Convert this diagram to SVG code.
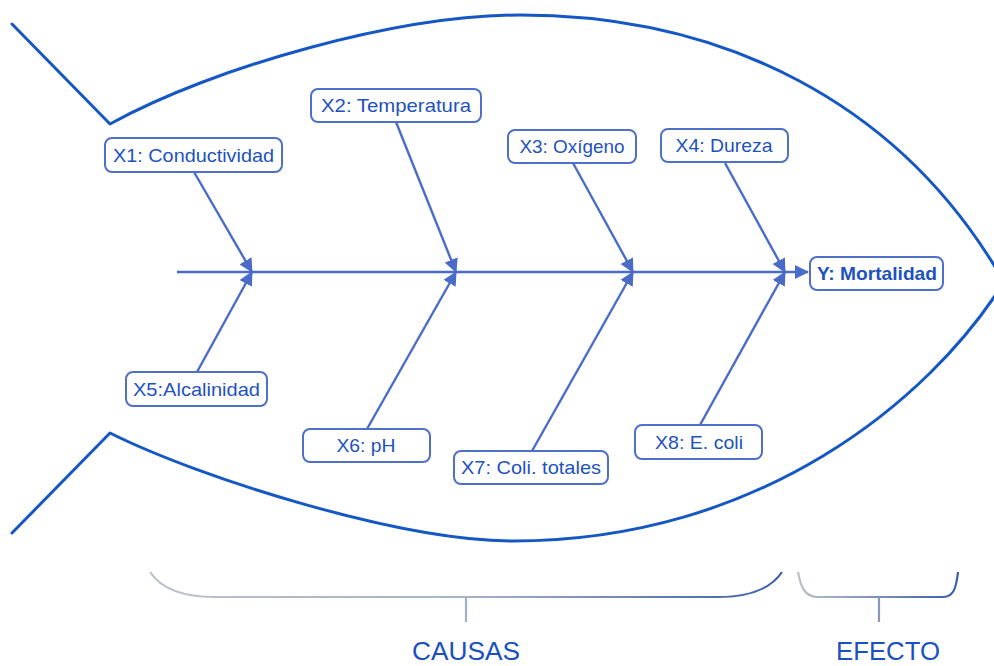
<svg xmlns="http://www.w3.org/2000/svg" width="994" height="666" viewBox="0 0 994 666">
<style>
.fish{fill:none;stroke:#1557c4;stroke-width:3;stroke-linejoin:round;stroke-linecap:round}
.bone{fill:none;stroke:#4a6cc8;stroke-width:2.4}
.box{fill:#ffffff;stroke:#4f70c8;stroke-width:2}
.lbl{font-family:"Liberation Sans",Arial,sans-serif;font-size:19px;fill:#1e52bf;text-anchor:middle}
.eff{font-weight:bold}
.cap{font-family:"Liberation Sans",Arial,sans-serif;font-size:25px;fill:#1a50c0;text-anchor:middle}
.brace{fill:none;stroke-width:2.2}
</style>
<defs>
<marker id="ah" viewBox="0 0 14 14" refX="13" refY="7" markerWidth="14" markerHeight="14" markerUnits="userSpaceOnUse" orient="auto">
<path d="M0,0 L14,7 L0,14 z" fill="#4a6cc8"/>
</marker>
<linearGradient id="g1" x1="150" y1="0" x2="782" y2="0" gradientUnits="userSpaceOnUse">
<stop offset="0" stop-color="#bcc0cb"/>
<stop offset="0.5" stop-color="#a9b2c9"/>
<stop offset="1" stop-color="#3a5cae"/>
</linearGradient>
<linearGradient id="g2" x1="798" y1="0" x2="958" y2="0" gradientUnits="userSpaceOnUse">
<stop offset="0" stop-color="#bcc0cb"/>
<stop offset="1" stop-color="#3a5cae"/>
</linearGradient>
</defs>

<g id="fish">
<path class="fish" d="M12,24 L110,124 C215,66 400,15 520,15 C720,15 900,100 1004,282"/>
<path class="fish" d="M12,533 L110,433 C200,478 400,541 513,541 C760,541 930,400 1004,282"/>
</g>

<g id="connectors">
<line class="bone" x1="177" y1="272" x2="808" y2="272" marker-end="url(#ah)"/>
<line class="bone" x1="194" y1="172" x2="252" y2="272" marker-end="url(#ah)"/>
<line class="bone" x1="396" y1="122" x2="456" y2="272" marker-end="url(#ah)"/>
<line class="bone" x1="573" y1="163" x2="633" y2="272" marker-end="url(#ah)"/>
<line class="bone" x1="725" y1="163" x2="785" y2="272" marker-end="url(#ah)"/>
<line class="bone" x1="197" y1="372" x2="252" y2="272" marker-end="url(#ah)"/>
<line class="bone" x1="367" y1="429" x2="456" y2="272" marker-end="url(#ah)"/>
<line class="bone" x1="532" y1="451" x2="633" y2="272" marker-end="url(#ah)"/>
<line class="bone" x1="700" y1="425" x2="785" y2="272" marker-end="url(#ah)"/>
</g>

<g id="x1">
<rect class="box" x="105" y="138" width="177" height="34" rx="7"/>
<text class="lbl" x="193.5" y="162" textLength="161" lengthAdjust="spacingAndGlyphs">X1: Conductividad</text>
</g>
<g id="x2">
<rect class="box" x="311" y="89" width="170" height="33" rx="7"/>
<text class="lbl" x="396" y="112" textLength="150" lengthAdjust="spacingAndGlyphs">X2: Temperatura</text>
</g>
<g id="x3">
<rect class="box" x="508" y="130" width="128" height="33" rx="7"/>
<text class="lbl" x="572" y="153" textLength="105" lengthAdjust="spacingAndGlyphs">X3: Oxígeno</text>
</g>
<g id="x4">
<rect class="box" x="661" y="129" width="127" height="33" rx="7"/>
<text class="lbl" x="724" y="152" textLength="97" lengthAdjust="spacingAndGlyphs">X4: Dureza</text>
</g>
<g id="y">
<rect class="box" x="810" y="257" width="133" height="33" rx="7"/>
<text class="lbl eff" x="877" y="280" textLength="120" lengthAdjust="spacingAndGlyphs">Y: Mortalidad</text>
</g>
<g id="x5">
<rect class="box" x="126" y="372" width="141" height="34" rx="7"/>
<text class="lbl" x="196.5" y="396" textLength="127" lengthAdjust="spacingAndGlyphs">X5:Alcalinidad</text>
</g>
<g id="x6">
<rect class="box" x="303" y="429" width="127" height="33" rx="7"/>
<text class="lbl" x="366" y="452" textLength="59" lengthAdjust="spacingAndGlyphs">X6: pH</text>
</g>
<g id="x7">
<rect class="box" x="454" y="451" width="154" height="33" rx="7"/>
<text class="lbl" x="531" y="474" textLength="140" lengthAdjust="spacingAndGlyphs">X7: Coli. totales</text>
</g>
<g id="x8">
<rect class="box" x="635" y="425" width="127" height="34" rx="7"/>
<text class="lbl" x="699" y="449" textLength="88" lengthAdjust="spacingAndGlyphs">X8: E. coli</text>
</g>

<g id="causas">
<path class="brace" stroke="url(#g1)" d="M150,572 C162,590 185,597 215,597 H718 C748,597 770,590 782,572"/>
<line class="brace" stroke="#a6afc8" x1="466" y1="597" x2="466" y2="622"/>
<text class="cap" x="466" y="660" textLength="108" lengthAdjust="spacingAndGlyphs">CAUSAS</text>
</g>
<g id="efecto">
<path class="brace" stroke="url(#g2)" d="M798,572 C801,588 805,597 818,597 H942 C953,597 956,590 958,572"/>
<line class="brace" stroke="#8896bd" x1="879" y1="597" x2="879" y2="622"/>
<text class="cap" x="888" y="660" textLength="104" lengthAdjust="spacingAndGlyphs">EFECTO</text>
</g>
</svg>
